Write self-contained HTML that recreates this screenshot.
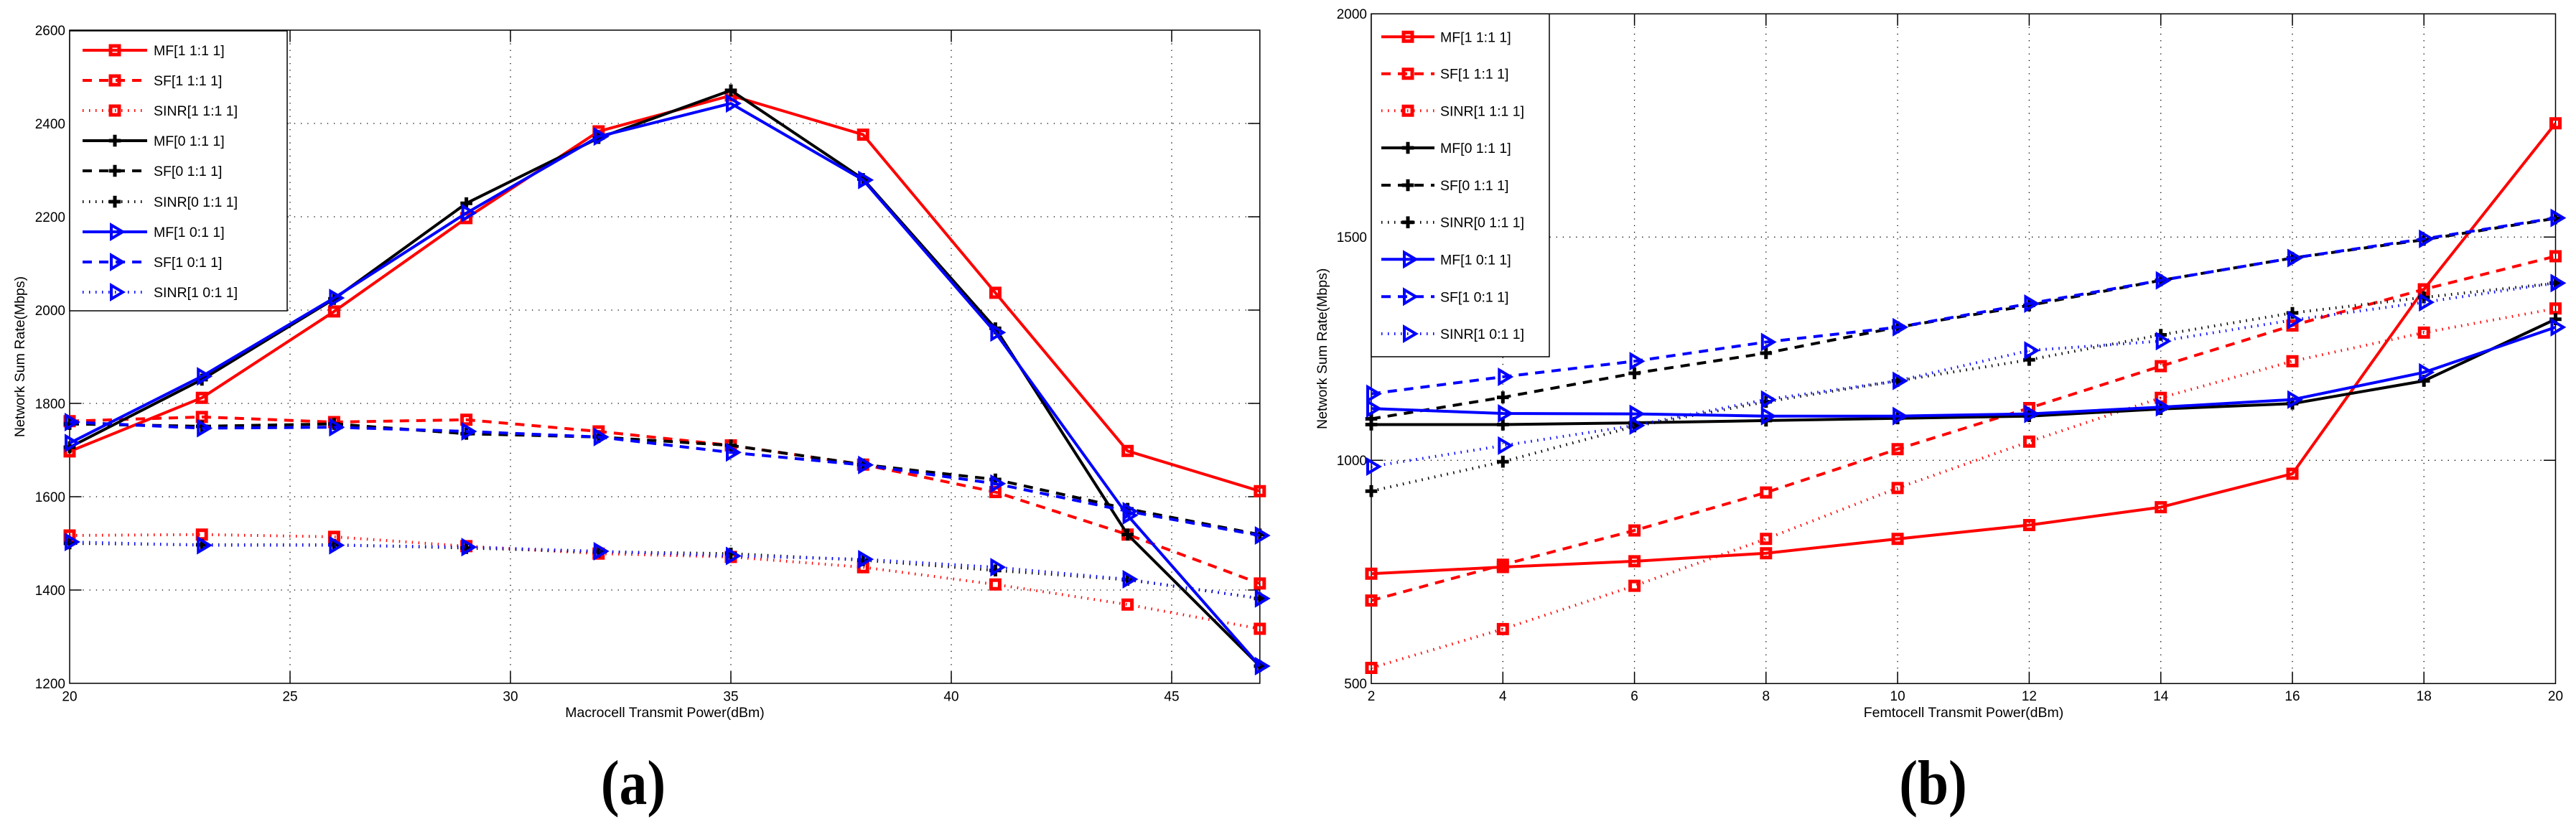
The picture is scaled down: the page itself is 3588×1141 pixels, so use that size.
<!DOCTYPE html>
<html>
<head>
<meta charset="utf-8">
<style>
html,body{margin:0;padding:0;background:#fff;}
svg{display:block;}
text{font-family:"Liberation Sans",Arial,Helvetica,sans-serif;fill:#000;}
.tk{font-size:19px;}
.lg{font-size:19.5px;}
.ti{font-size:19.5px;}
.cap{font-family:"Liberation Serif","Times New Roman",serif;font-weight:bold;font-size:88px;}
.grid{stroke:#000;stroke-width:1.3;stroke-dasharray:1.3 7.9;fill:none;}
.ax{stroke:#000;stroke-width:1.5;fill:none;}
.ln{fill:none;stroke-width:4;stroke-linejoin:round;}
.da{stroke-dasharray:13 10;}
.do{stroke-dasharray:1.5 7.5;}
.r{stroke:#ff0000;}
.k{stroke:#000000;}
.b{stroke:#0000ff;}
</style>
</head>
<body>
<svg width="3588" height="1141" viewBox="0 0 3588 1141" xmlns="http://www.w3.org/2000/svg" xmlns:xlink="http://www.w3.org/1999/xlink">
<defs>
<path id="s" d="M-6,-6h12v12h-12z" fill="none" stroke-width="5"/>
<path id="p" d="M-8.3,0H8.3M0,-8.3V8.3" fill="none" stroke-width="5"/>
<path id="t" d="M-5,-9.5L-5,9.5L11,0Z" fill="none" stroke-width="4" stroke-linejoin="miter"/>
</defs>
<rect x="0" y="0" width="3588" height="1141" fill="#fff"/>

<!-- ================= LEFT CHART ================= -->
<path class="grid" d="M404,42V952M711,42V952M1018,42V952M1325,42V952M1632,42V952M97,172H1754.8M97,302H1754.8M97,432H1754.8M97,562H1754.8M97,692H1754.8M97,822H1754.8"/>
<rect class="ax" x="97" y="42" width="1657.8" height="910"/>
<path class="ax" d="M404,952v-16.5M711,952v-16.5M1018,952v-16.5M1325,952v-16.5M1632,952v-16.5M404,42v16.5M711,42v16.5M1018,42v16.5M1325,42v16.5M1632,42v16.5M97,172h16.5M97,302h16.5M97,432h16.5M97,562h16.5M97,692h16.5M97,822h16.5M1754.8,172h-16.5M1754.8,302h-16.5M1754.8,432h-16.5M1754.8,562h-16.5M1754.8,692h-16.5M1754.8,822h-16.5"/>

<!-- MF red -->
<g class="r">
<polyline class="ln" points="97,628.9 281.2,554.2 465.4,433.9 649.6,303.9 833.8,183 1018,133 1202.2,187.6 1386.4,407.9 1570.6,628.3 1754.8,684.2"/>
<use xlink:href="#s" x="97" y="628.9"/><use xlink:href="#s" x="281.2" y="554.2"/><use xlink:href="#s" x="465.4" y="433.9"/><use xlink:href="#s" x="649.6" y="303.9"/><use xlink:href="#s" x="833.8" y="183"/><use xlink:href="#s" x="1018" y="133"/><use xlink:href="#s" x="1202.2" y="187.6"/><use xlink:href="#s" x="1386.4" y="407.9"/><use xlink:href="#s" x="1570.6" y="628.3"/><use xlink:href="#s" x="1754.8" y="684.2"/>
</g>
<!-- SF red -->
<g class="r">
<polyline class="ln da" points="97,586.7 281.2,580.9 465.4,588 649.6,584.8 833.8,601 1018,620.5 1202.2,647.2 1386.4,685.5 1570.6,744.7 1754.8,812.9"/>
<use xlink:href="#s" x="97" y="586.7"/><use xlink:href="#s" x="281.2" y="580.9"/><use xlink:href="#s" x="465.4" y="588"/><use xlink:href="#s" x="649.6" y="584.8"/><use xlink:href="#s" x="833.8" y="601"/><use xlink:href="#s" x="1018" y="620.5"/><use xlink:href="#s" x="1202.2" y="647.2"/><use xlink:href="#s" x="1386.4" y="685.5"/><use xlink:href="#s" x="1570.6" y="744.7"/><use xlink:href="#s" x="1754.8" y="812.9"/>
</g>
<!-- SINR red -->
<g class="r">
<polyline class="ln do" points="97,746 281.2,744.7 465.4,747.9 649.6,760.9 833.8,771.3 1018,775.9 1202.2,790.2 1386.4,814.2 1570.6,842.2 1754.8,876"/>
<use xlink:href="#s" x="97" y="746"/><use xlink:href="#s" x="281.2" y="744.7"/><use xlink:href="#s" x="465.4" y="747.9"/><use xlink:href="#s" x="649.6" y="760.9"/><use xlink:href="#s" x="833.8" y="771.3"/><use xlink:href="#s" x="1018" y="775.9"/><use xlink:href="#s" x="1202.2" y="790.2"/><use xlink:href="#s" x="1386.4" y="814.2"/><use xlink:href="#s" x="1570.6" y="842.2"/><use xlink:href="#s" x="1754.8" y="876"/>
</g>
<!-- MF black -->
<g class="k">
<polyline class="ln" points="97,623.1 281.2,528.9 465.4,416.4 649.6,283.2 833.8,192.2 1018,125.9 1202.2,249.4 1386.4,457.4 1570.6,744.7 1754.8,928"/>
<use xlink:href="#p" x="97" y="623.1"/><use xlink:href="#p" x="281.2" y="528.9"/><use xlink:href="#p" x="465.4" y="416.4"/><use xlink:href="#p" x="649.6" y="283.2"/><use xlink:href="#p" x="833.8" y="192.2"/><use xlink:href="#p" x="1018" y="125.9"/><use xlink:href="#p" x="1202.2" y="249.4"/><use xlink:href="#p" x="1386.4" y="457.4"/><use xlink:href="#p" x="1570.6" y="744.7"/><use xlink:href="#p" x="1754.8" y="928"/>
</g>
<!-- SF black -->
<g class="k">
<polyline class="ln da" points="97,590.6 281.2,593.9 465.4,590.6 649.6,604.3 833.8,608.8 1018,620.5 1202.2,647.2 1386.4,668 1570.6,708.9 1754.8,744.7"/>
<use xlink:href="#p" x="97" y="590.6"/><use xlink:href="#p" x="281.2" y="593.9"/><use xlink:href="#p" x="465.4" y="590.6"/><use xlink:href="#p" x="649.6" y="604.3"/><use xlink:href="#p" x="833.8" y="608.8"/><use xlink:href="#p" x="1018" y="620.5"/><use xlink:href="#p" x="1202.2" y="647.2"/><use xlink:href="#p" x="1386.4" y="668"/><use xlink:href="#p" x="1570.6" y="708.9"/><use xlink:href="#p" x="1754.8" y="744.7"/>
</g>
<!-- SINR black -->
<g class="k">
<polyline class="ln do" points="97,757 281.2,759 465.4,759 649.6,763.5 833.8,768.7 1018,771.3 1202.2,780.4 1386.4,794.7 1570.6,807.7 1754.8,833.7"/>
<use xlink:href="#p" x="97" y="757"/><use xlink:href="#p" x="281.2" y="759"/><use xlink:href="#p" x="465.4" y="759"/><use xlink:href="#p" x="649.6" y="763.5"/><use xlink:href="#p" x="833.8" y="768.7"/><use xlink:href="#p" x="1018" y="771.3"/><use xlink:href="#p" x="1202.2" y="780.4"/><use xlink:href="#p" x="1386.4" y="794.7"/><use xlink:href="#p" x="1570.6" y="807.7"/><use xlink:href="#p" x="1754.8" y="833.7"/>
</g>
<!-- MF blue -->
<g class="b">
<polyline class="ln" points="97,617.3 281.2,524.3 465.4,415.1 649.6,296.8 833.8,190.2 1018,144.1 1202.2,250.7 1386.4,463.2 1570.6,718 1754.8,928"/>
<use xlink:href="#t" x="97" y="617.3"/><use xlink:href="#t" x="281.2" y="524.3"/><use xlink:href="#t" x="465.4" y="415.1"/><use xlink:href="#t" x="649.6" y="296.8"/><use xlink:href="#t" x="833.8" y="190.2"/><use xlink:href="#t" x="1018" y="144.1"/><use xlink:href="#t" x="1202.2" y="250.7"/><use xlink:href="#t" x="1386.4" y="463.2"/><use xlink:href="#t" x="1570.6" y="718"/><use xlink:href="#t" x="1754.8" y="928"/>
</g>
<!-- SF blue -->
<g class="b">
<polyline class="ln da" points="97,588 281.2,596.5 465.4,595.2 649.6,601 833.8,608.8 1018,630.3 1202.2,647.8 1386.4,673.8 1570.6,712.2 1754.8,746"/>
<use xlink:href="#t" x="97" y="588"/><use xlink:href="#t" x="281.2" y="596.5"/><use xlink:href="#t" x="465.4" y="595.2"/><use xlink:href="#t" x="649.6" y="601"/><use xlink:href="#t" x="833.8" y="608.8"/><use xlink:href="#t" x="1018" y="630.3"/><use xlink:href="#t" x="1202.2" y="647.8"/><use xlink:href="#t" x="1386.4" y="673.8"/><use xlink:href="#t" x="1570.6" y="712.2"/><use xlink:href="#t" x="1754.8" y="746"/>
</g>
<!-- SINR blue -->
<g class="b">
<polyline class="ln do" points="97,755 281.2,759.6 465.4,759.6 649.6,762.2 833.8,768 1018,774.5 1202.2,779.1 1386.4,790.2 1570.6,807 1754.8,833.7"/>
<use xlink:href="#t" x="97" y="755"/><use xlink:href="#t" x="281.2" y="759.6"/><use xlink:href="#t" x="465.4" y="759.6"/><use xlink:href="#t" x="649.6" y="762.2"/><use xlink:href="#t" x="833.8" y="768"/><use xlink:href="#t" x="1018" y="774.5"/><use xlink:href="#t" x="1202.2" y="779.1"/><use xlink:href="#t" x="1386.4" y="790.2"/><use xlink:href="#t" x="1570.6" y="807"/><use xlink:href="#t" x="1754.8" y="833.7"/>
</g>

<!-- left legend -->
<rect x="97" y="43" width="303" height="390" fill="#fff" stroke="#000" stroke-width="1.5"/>
<g class="r"><line class="ln" x1="115" y1="70" x2="205" y2="70"/><use xlink:href="#s" x="160" y="70"/></g>
<g class="r"><line class="ln da" x1="115" y1="112" x2="205" y2="112"/><use xlink:href="#s" x="160" y="112"/></g>
<g class="r"><line class="ln do" x1="115" y1="154" x2="205" y2="154"/><use xlink:href="#s" x="160" y="154"/></g>
<g class="k"><line class="ln" x1="115" y1="196" x2="205" y2="196"/><use xlink:href="#p" x="160" y="196"/></g>
<g class="k"><line class="ln da" x1="115" y1="238" x2="205" y2="238"/><use xlink:href="#p" x="160" y="238"/></g>
<g class="k"><line class="ln do" x1="115" y1="281" x2="205" y2="281"/><use xlink:href="#p" x="160" y="281"/></g>
<g class="b"><line class="ln" x1="115" y1="323" x2="205" y2="323"/><use xlink:href="#t" x="160" y="323"/></g>
<g class="b"><line class="ln da" x1="115" y1="365" x2="205" y2="365"/><use xlink:href="#t" x="160" y="365"/></g>
<g class="b"><line class="ln do" x1="115" y1="407" x2="205" y2="407"/><use xlink:href="#t" x="160" y="407"/></g>
<g class="lg">
<text x="214" y="77">MF[1 1:1 1]</text>
<text x="214" y="119">SF[1 1:1 1]</text>
<text x="214" y="161">SINR[1 1:1 1]</text>
<text x="214" y="203">MF[0 1:1 1]</text>
<text x="214" y="245">SF[0 1:1 1]</text>
<text x="214" y="288">SINR[0 1:1 1]</text>
<text x="214" y="330">MF[1 0:1 1]</text>
<text x="214" y="372">SF[1 0:1 1]</text>
<text x="214" y="414">SINR[1 0:1 1]</text>
</g>

<!-- left tick labels -->
<g class="tk" text-anchor="end">
<text x="91" y="49">2600</text>
<text x="91" y="179">2400</text>
<text x="91" y="309">2200</text>
<text x="91" y="439">2000</text>
<text x="91" y="569">1800</text>
<text x="91" y="699">1600</text>
<text x="91" y="829">1400</text>
<text x="91" y="959">1200</text>
</g>
<g class="tk" text-anchor="middle">
<text x="97" y="976.5">20</text>
<text x="404" y="976.5">25</text>
<text x="711" y="976.5">30</text>
<text x="1018" y="976.5">35</text>
<text x="1325" y="976.5">40</text>
<text x="1632" y="976.5">45</text>
</g>
<text class="ti" x="926" y="999" text-anchor="middle">Macrocell Transmit Power(dBm)</text>
<text class="ti" transform="translate(34,497) rotate(-90)" text-anchor="middle">Network Sum Rate(Mbps)</text>

<!-- ================= RIGHT CHART ================= -->
<path class="grid" d="M2093.3,19.3V952.3M2276.6,19.3V952.3M2459.8,19.3V952.3M2643.1,19.3V952.3M2826.4,19.3V952.3M3009.7,19.3V952.3M3193,19.3V952.3M3376.2,19.3V952.3M1910,330.3H3559.5M1910,641.3H3559.5"/>
<rect class="ax" x="1910" y="19.3" width="1649.5" height="933"/>
<path class="ax" d="M2093.3,952.3v-16.5M2276.6,952.3v-16.5M2459.8,952.3v-16.5M2643.1,952.3v-16.5M2826.4,952.3v-16.5M3009.7,952.3v-16.5M3193,952.3v-16.5M3376.2,952.3v-16.5M2093.3,19.3v16.5M2276.6,19.3v16.5M2459.8,19.3v16.5M2643.1,19.3v16.5M2826.4,19.3v16.5M3009.7,19.3v16.5M3193,19.3v16.5M3376.2,19.3v16.5M1910,330.3h16.5M1910,641.3h16.5M3559.5,330.3h-16.5M3559.5,641.3h-16.5"/>

<!-- MF red -->
<g class="r">
<polyline class="ln" points="1910,799.3 2093.3,790 2276.6,781.9 2459.8,770.7 2643.1,750.8 2826.4,731.5 3009.7,706.6 3193,660 3376.2,403.1 3559.5,171.7"/>
<use xlink:href="#s" x="1910" y="799.3"/><use xlink:href="#s" x="2093.3" y="790"/><use xlink:href="#s" x="2276.6" y="781.9"/><use xlink:href="#s" x="2459.8" y="770.7"/><use xlink:href="#s" x="2643.1" y="750.8"/><use xlink:href="#s" x="2826.4" y="731.5"/><use xlink:href="#s" x="3009.7" y="706.6"/><use xlink:href="#s" x="3193" y="660"/><use xlink:href="#s" x="3376.2" y="403.1"/><use xlink:href="#s" x="3559.5" y="171.7"/>
</g>
<!-- SF red -->
<g class="r">
<polyline class="ln da" points="1910,836.6 2093.3,786.8 2276.6,739 2459.8,686.1 2643.1,625.7 2826.4,568.5 3009.7,510.1 3193,453.5 3376.2,403.1 3559.5,357"/>
<use xlink:href="#s" x="1910" y="836.6"/><use xlink:href="#s" x="2093.3" y="786.8"/><use xlink:href="#s" x="2276.6" y="739"/><use xlink:href="#s" x="2459.8" y="686.1"/><use xlink:href="#s" x="2643.1" y="625.7"/><use xlink:href="#s" x="2826.4" y="568.5"/><use xlink:href="#s" x="3009.7" y="510.1"/><use xlink:href="#s" x="3193" y="453.5"/><use xlink:href="#s" x="3376.2" y="403.1"/><use xlink:href="#s" x="3559.5" y="357"/>
</g>
<!-- SINR red -->
<g class="r">
<polyline class="ln do" points="1910,930.5 2093.3,876.4 2276.6,816.1 2459.8,750.8 2643.1,679.9 2826.4,615.2 3009.7,554.2 3193,503.2 3376.2,463.4 3559.5,429.8"/>
<use xlink:href="#s" x="1910" y="930.5"/><use xlink:href="#s" x="2093.3" y="876.4"/><use xlink:href="#s" x="2276.6" y="816.1"/><use xlink:href="#s" x="2459.8" y="750.8"/><use xlink:href="#s" x="2643.1" y="679.9"/><use xlink:href="#s" x="2826.4" y="615.2"/><use xlink:href="#s" x="3009.7" y="554.2"/><use xlink:href="#s" x="3193" y="503.2"/><use xlink:href="#s" x="3376.2" y="463.4"/><use xlink:href="#s" x="3559.5" y="429.8"/>
</g>
<!-- MF black -->
<g class="k">
<polyline class="ln" points="1910,591.5 2093.3,591.5 2276.6,589.1 2459.8,585.9 2643.1,582.8 2826.4,579.7 3009.7,569.8 3193,562.3 3376.2,530.6 3559.5,444.7"/>
<use xlink:href="#p" x="1910" y="591.5"/><use xlink:href="#p" x="2093.3" y="591.5"/><use xlink:href="#p" x="2276.6" y="589.1"/><use xlink:href="#p" x="2459.8" y="585.9"/><use xlink:href="#p" x="2643.1" y="582.8"/><use xlink:href="#p" x="2826.4" y="579.7"/><use xlink:href="#p" x="3009.7" y="569.8"/><use xlink:href="#p" x="3193" y="562.3"/><use xlink:href="#p" x="3376.2" y="530.6"/><use xlink:href="#p" x="3559.5" y="444.7"/>
</g>
<!-- SF black -->
<g class="k">
<polyline class="ln da" points="1910,583.5 2093.3,553.6 2276.6,520 2459.8,492 2643.1,455.9 2826.4,425.5 3009.7,390.6 3193,359.5 3376.2,334 3559.5,304.2"/>
<use xlink:href="#p" x="1910" y="583.5"/><use xlink:href="#p" x="2093.3" y="553.6"/><use xlink:href="#p" x="2276.6" y="520"/><use xlink:href="#p" x="2459.8" y="492"/><use xlink:href="#p" x="2643.1" y="455.9"/><use xlink:href="#p" x="2826.4" y="425.5"/><use xlink:href="#p" x="3009.7" y="390.6"/><use xlink:href="#p" x="3193" y="359.5"/><use xlink:href="#p" x="3376.2" y="334"/><use xlink:href="#p" x="3559.5" y="304.2"/>
</g>
<!-- SINR black -->
<g class="k">
<polyline class="ln do" points="1910,684.2 2093.3,643.2 2276.6,594 2459.8,559.8 2643.1,530.6 2826.4,501.3 3009.7,466.5 3193,436 3376.2,414.3 3559.5,394.4"/>
<use xlink:href="#p" x="1910" y="684.2"/><use xlink:href="#p" x="2093.3" y="643.2"/><use xlink:href="#p" x="2276.6" y="594"/><use xlink:href="#p" x="2459.8" y="559.8"/><use xlink:href="#p" x="2643.1" y="530.6"/><use xlink:href="#p" x="2826.4" y="501.3"/><use xlink:href="#p" x="3009.7" y="466.5"/><use xlink:href="#p" x="3193" y="436"/><use xlink:href="#p" x="3376.2" y="414.3"/><use xlink:href="#p" x="3559.5" y="394.4"/>
</g>
<!-- MF blue -->
<g class="b">
<polyline class="ln" points="1910,569.1 2093.3,576 2276.6,576.6 2459.8,579.7 2643.1,579.7 2826.4,576.6 3009.7,567.3 3193,556.7 3376.2,518.8 3559.5,455.9"/>
<use xlink:href="#t" x="1910" y="569.1"/><use xlink:href="#t" x="2093.3" y="576"/><use xlink:href="#t" x="2276.6" y="576.6"/><use xlink:href="#t" x="2459.8" y="579.7"/><use xlink:href="#t" x="2643.1" y="579.7"/><use xlink:href="#t" x="2826.4" y="576.6"/><use xlink:href="#t" x="3009.7" y="567.3"/><use xlink:href="#t" x="3193" y="556.7"/><use xlink:href="#t" x="3376.2" y="518.8"/><use xlink:href="#t" x="3559.5" y="455.9"/>
</g>
<!-- SF blue -->
<g class="b">
<polyline class="ln da" points="1910,548.6 2093.3,525 2276.6,503.2 2459.8,476.5 2643.1,455.9 2826.4,423 3009.7,390.6 3193,359.5 3376.2,332.8 3559.5,303.6"/>
<use xlink:href="#t" x="1910" y="548.6"/><use xlink:href="#t" x="2093.3" y="525"/><use xlink:href="#t" x="2276.6" y="503.2"/><use xlink:href="#t" x="2459.8" y="476.5"/><use xlink:href="#t" x="2643.1" y="455.9"/><use xlink:href="#t" x="2826.4" y="423"/><use xlink:href="#t" x="3009.7" y="390.6"/><use xlink:href="#t" x="3193" y="359.5"/><use xlink:href="#t" x="3376.2" y="332.8"/><use xlink:href="#t" x="3559.5" y="303.6"/>
</g>
<!-- SINR blue -->
<g class="b">
<polyline class="ln do" points="1910,650 2093.3,620.8 2276.6,592.8 2459.8,556.7 2643.1,530.6 2826.4,488.3 3009.7,475.2 3193,446 3376.2,421.1 3559.5,394.4"/>
<use xlink:href="#t" x="1910" y="650"/><use xlink:href="#t" x="2093.3" y="620.8"/><use xlink:href="#t" x="2276.6" y="592.8"/><use xlink:href="#t" x="2459.8" y="556.7"/><use xlink:href="#t" x="2643.1" y="530.6"/><use xlink:href="#t" x="2826.4" y="488.3"/><use xlink:href="#t" x="3009.7" y="475.2"/><use xlink:href="#t" x="3193" y="446"/><use xlink:href="#t" x="3376.2" y="421.1"/><use xlink:href="#t" x="3559.5" y="394.4"/>
</g>

<!-- right legend -->
<rect x="1910" y="19.3" width="248" height="477.7" fill="#fff" stroke="#000" stroke-width="1.5"/>
<g class="r"><line class="ln" x1="1924" y1="51.3" x2="1998" y2="51.3"/><use xlink:href="#s" x="1961" y="51.3"/></g>
<g class="r"><line class="ln da" x1="1924" y1="102.7" x2="1998" y2="102.7"/><use xlink:href="#s" x="1961" y="102.7"/></g>
<g class="r"><line class="ln do" x1="1924" y1="154.3" x2="1998" y2="154.3"/><use xlink:href="#s" x="1961" y="154.3"/></g>
<g class="k"><line class="ln" x1="1924" y1="206" x2="1998" y2="206"/><use xlink:href="#p" x="1961" y="206"/></g>
<g class="k"><line class="ln da" x1="1924" y1="258" x2="1998" y2="258"/><use xlink:href="#p" x="1961" y="258"/></g>
<g class="k"><line class="ln do" x1="1924" y1="309.7" x2="1998" y2="309.7"/><use xlink:href="#p" x="1961" y="309.7"/></g>
<g class="b"><line class="ln" x1="1924" y1="361.3" x2="1998" y2="361.3"/><use xlink:href="#t" x="1961" y="361.3"/></g>
<g class="b"><line class="ln da" x1="1924" y1="413.3" x2="1998" y2="413.3"/><use xlink:href="#t" x="1961" y="413.3"/></g>
<g class="b"><line class="ln do" x1="1924" y1="465" x2="1998" y2="465"/><use xlink:href="#t" x="1961" y="465"/></g>
<g class="lg">
<text x="2006" y="58.3">MF[1 1:1 1]</text>
<text x="2006" y="109.7">SF[1 1:1 1]</text>
<text x="2006" y="161.3">SINR[1 1:1 1]</text>
<text x="2006" y="213">MF[0 1:1 1]</text>
<text x="2006" y="265">SF[0 1:1 1]</text>
<text x="2006" y="316.7">SINR[0 1:1 1]</text>
<text x="2006" y="368.3">MF[1 0:1 1]</text>
<text x="2006" y="420.3">SF[1 0:1 1]</text>
<text x="2006" y="472">SINR[1 0:1 1]</text>
</g>

<!-- right tick labels -->
<g class="tk" text-anchor="end">
<text x="1904" y="26">2000</text>
<text x="1904" y="337">1500</text>
<text x="1904" y="648">1000</text>
<text x="1904" y="959">500</text>
</g>
<g class="tk" text-anchor="middle">
<text x="1910" y="976">2</text>
<text x="2093.3" y="976">4</text>
<text x="2276.6" y="976">6</text>
<text x="2459.8" y="976">8</text>
<text x="2643.1" y="976">10</text>
<text x="2826.4" y="976">12</text>
<text x="3009.7" y="976">14</text>
<text x="3193" y="976">16</text>
<text x="3376.2" y="976">18</text>
<text x="3559.5" y="976">20</text>
</g>
<text class="ti" x="2735" y="999" text-anchor="middle">Femtocell Transmit Power(dBm)</text>
<text class="ti" transform="translate(1848,485.8) rotate(-90)" text-anchor="middle">Network Sum Rate(Mbps)</text>

<!-- captions -->
<text class="cap" transform="translate(882,1120) scale(0.88,1)" text-anchor="middle">(a)</text>
<text class="cap" transform="translate(2692.5,1120) scale(0.88,1)" text-anchor="middle">(b)</text>
</svg>
</body>
</html>
